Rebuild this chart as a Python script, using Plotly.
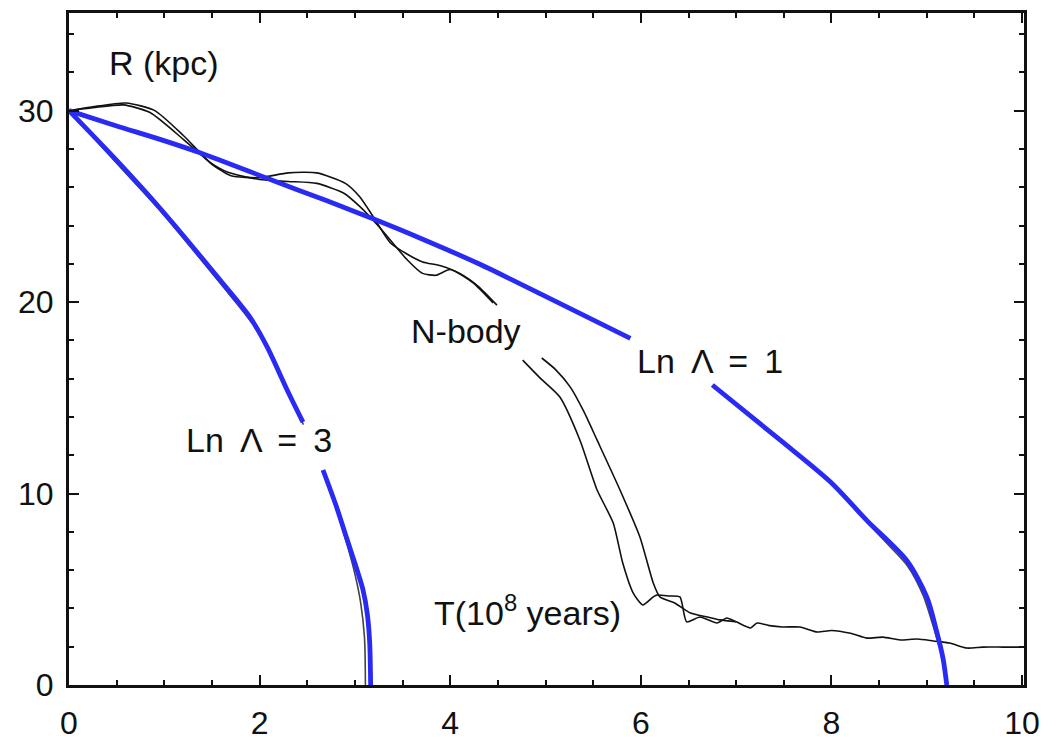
import plotly.graph_objects as go

# ---- data ----
# Ln Lambda = 3 model (blue), split around its label
lnl3_t_a = [0, 0.5, 0.955, 1.585, 1.9, 2.08, 2.29, 2.455]
lnl3_r_a = [30, 27.4, 24.9, 21.15, 19.2, 17.65, 15.4, 13.73]
lnl3_t_b = [2.665, 2.8, 2.92, 3.01, 3.085, 3.13, 3.155, 3.165]
lnl3_r_b = [11.23, 9.4, 7.57, 6.2, 4.96, 3.7, 2.2, 0]
# original black Ln Lambda = 3 curve peeking out under the blue one
blk3_t_a = [0, 0.5, 0.97, 1.6, 1.92, 2.1, 2.3, 2.46]
blk3_r_a = [30, 27.25, 24.7, 20.9, 18.9, 17.4, 15.2, 13.6]
blk3_t_b = [2.67, 2.8, 2.92, 3.0, 3.06, 3.1, 3.11]
blk3_r_b = [11.1, 9.25, 7.3, 5.8, 4.3, 2.5, 0]

# Ln Lambda = 1 model (blue), split around its label
lnl1_t_a = [0, 0.5, 0.955, 1.375, 2.14, 2.7, 3.19, 3.68, 4.3, 5.0, 5.89]
lnl1_r_a = [30, 29.2, 28.5, 27.8, 26.35, 25.3, 24.35, 23.35, 22.0, 20.3, 18.1]
lnl1_t_b = [6.75, 7.46, 7.99, 8.37, 8.79, 9.0, 9.1, 9.17, 9.21]
lnl1_r_b = [15.67, 12.8, 10.6, 8.6, 6.5, 4.6, 2.87, 1.4, 0]
# original black Ln Lambda = 1 curve near its end
blk1_t = [8.37, 8.6, 8.8, 8.96, 9.06, 9.13]
blk1_r = [8.5, 7.3, 6.2, 4.7, 3.2, 2.0]

# N-body runs (black), upper part
nb_a_t1 = [0, 0.25, 0.57, 0.85, 1.2, 1.48, 1.66, 2.0, 2.3, 2.6, 2.88, 3.05, 3.26, 3.55, 3.71, 3.85, 4.0, 4.24, 4.45]
nb_a_r1 = [30, 30.15, 30.3, 29.9, 28.5, 27.3, 26.8, 26.4, 26.3, 26.2, 25.7, 25.0, 23.9, 22.2, 21.5, 21.4, 21.7, 21.0, 19.95]
nb_b_t1 = [0, 0.25, 0.6, 0.9, 1.2, 1.5, 1.7, 2.0, 2.3, 2.6, 2.9, 3.05, 3.2, 3.37, 3.55, 3.71, 3.9, 4.1, 4.3, 4.49]
nb_b_r1 = [30, 30.2, 30.4, 30.0, 28.7, 27.2, 26.6, 26.5, 26.75, 26.75, 26.2, 25.5, 24.4, 23.1, 22.5, 22.1, 21.9, 21.5, 20.8, 19.84]

# N-body runs (black), lower part
nb_a_t2 = [4.76, 4.95, 5.15, 5.36, 5.54, 5.71, 5.81, 5.92, 6.02, 6.13, 6.17, 6.3, 6.41, 6.48, 6.62, 6.8, 6.9, 7.0,
           7.15, 7.22, 7.35, 7.49, 7.67, 7.85, 8.0, 8.2, 8.37, 8.54, 8.72, 8.9, 9.07, 9.24, 9.42, 9.59, 9.8, 10.0]
nb_a_r2 = [16.97, 16.0, 15.04, 12.8, 10.2, 8.46, 6.37, 4.8, 4.18, 4.6, 4.7, 4.65, 4.6, 3.3, 3.55, 3.24, 3.5, 3.3,
           2.98, 3.24, 3.1, 3.03, 3.03, 2.77, 2.85, 2.7, 2.45, 2.5, 2.35, 2.4, 2.3, 2.19, 1.93, 1.98, 1.98, 1.98]
nb_b_t2 = [4.96, 5.1, 5.26, 5.4, 5.54, 5.78, 5.99, 6.13, 6.2, 6.35, 6.52, 6.7, 6.83, 7.0]
nb_b_r2 = [17.08, 16.5, 15.56, 14.3, 12.8, 10.2, 7.73, 5.33, 4.6, 4.3, 3.76, 3.55, 3.4, 3.3]

x_ticks = [0, 2, 4, 6, 8, 10]
y_ticks = [0, 10, 20, 30]

BLUE = "#2a2af5"
BLACK = "#111111"
FONT = "Liberation Sans, Arial, sans-serif"

fig = go.Figure()

def add(t, r, color, width, smooth):
    fig.add_trace(go.Scatter(x=t, y=r, mode="lines",
                             line=dict(color=color, width=width, shape="spline", smoothing=smooth),
                             showlegend=False, hoverinfo="skip"))

for t, r in [(nb_a_t1, nb_a_r1), (nb_b_t1, nb_b_r1), (nb_a_t2, nb_a_r2), (nb_b_t2, nb_b_r2)]:
    add(t, r, BLACK, 1.6, 0.6)
for t, r in [(blk3_t_a, blk3_r_a), (blk3_t_b, blk3_r_b), (blk1_t, blk1_r)]:
    add(t, r, "#444444", 1.6, 0.8)
for t, r in [(lnl3_t_a, lnl3_r_a), (lnl3_t_b, lnl3_r_b), (lnl1_t_a, lnl1_r_a), (lnl1_t_b, lnl1_r_b)]:
    add(t, r, BLUE, 4.8, 0.8)

lab = dict(showarrow=False, font=dict(family=FONT, size=34, color=BLACK), xref="x", yref="y")
sp = " \u2009"
fig.add_annotation(x=0.4, y=32.5, text="R (kpc)", xanchor="left", yanchor="middle", **lab)
fig.add_annotation(x=4.17, y=18.5, text="N-body", xanchor="center", yanchor="middle", **lab)
fig.add_annotation(x=6.73, y=16.9, text="Ln" + sp + "\u039b" + sp + "=" + sp + "1", xanchor="center", yanchor="middle", **lab)
fig.add_annotation(x=1.99, y=12.8, text="Ln" + sp + "\u039b" + sp + "=" + sp + "3", xanchor="center", yanchor="middle", **lab)
fig.add_annotation(x=4.81, y=3.9, text="T(10<sup>8</sup> years)", xanchor="center", yanchor="middle", **lab)

axis_common = dict(showline=True, linecolor=BLACK, linewidth=3, mirror="ticks", ticks="inside",
                   tickcolor=BLACK, tickwidth=2, ticklen=10, showgrid=False, zeroline=False,
                   automargin=False, ticklabeloverflow="allow",
                   tickfont=dict(family=FONT, size=32, color=BLACK))
fig.update_xaxes(range=[0, 10.02], tickvals=x_ticks, ticktext=[str(v) for v in x_ticks],
                 minor=dict(ticks="inside", dtick=0.5, ticklen=5, tickwidth=2, tickcolor=BLACK),
                 ticklabelstandoff=8, **axis_common)
fig.update_yaxes(range=[0, 35.1], tickvals=y_ticks, ticktext=[str(v) for v in y_ticks],
                 minor=dict(ticks="inside", dtick=2, ticklen=5, tickwidth=2, tickcolor=BLACK),
                 ticklabelstandoff=6, **axis_common)

fig.update_layout(width=1046, height=747, margin=dict(l=69, r=22, t=13, b=62),
                  paper_bgcolor="white", plot_bgcolor="white", showlegend=False)

# remove the page's default body margin so the figure fills the window exactly
fig.write_html("out.html", config={"displayModeBar": False},
               post_script="document.body.style.margin='0';document.body.style.overflow='hidden';")
